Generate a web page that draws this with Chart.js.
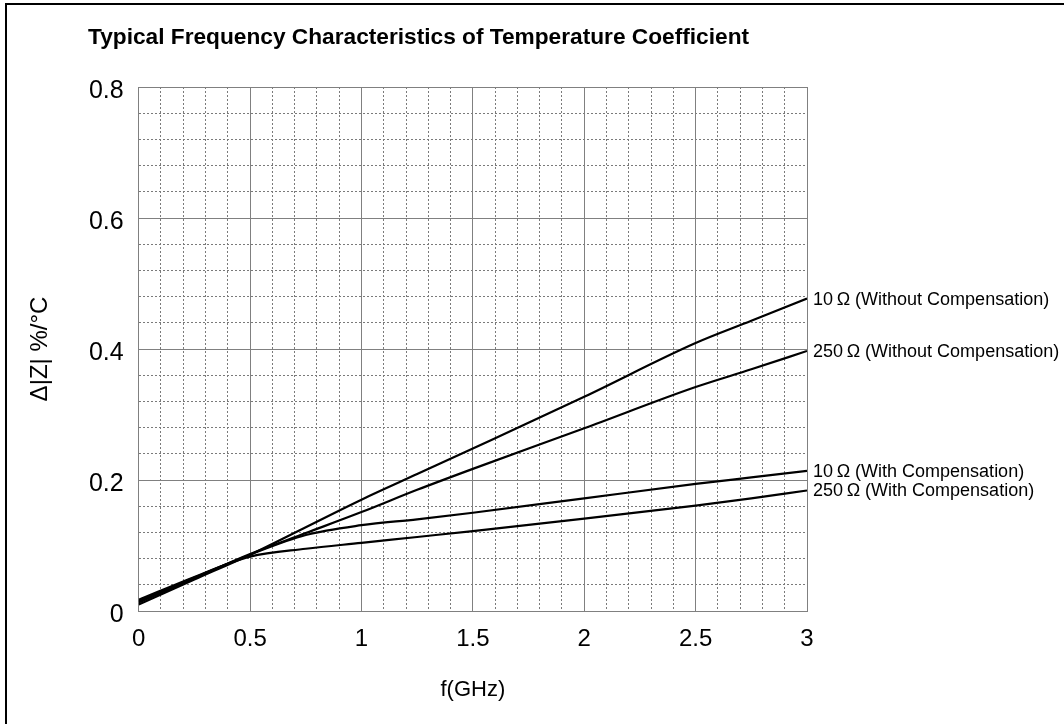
<!DOCTYPE html>
<html><head><meta charset="utf-8">
<script src="https://cdn.jsdelivr.net/npm/chart.js@4.4.1/dist/chart.umd.min.js"></script>
<style>
html,body{margin:0;padding:0;background:#fff;}
#wrap{position:relative;width:1064px;height:724px;overflow:hidden;}
#frame{position:absolute;left:5px;top:3px;width:1059px;height:721px;border-left:2px solid #000;border-top:2px solid #000;box-sizing:border-box;pointer-events:none;}
canvas{position:absolute;left:0;top:0;}
</style></head><body>
<div id="wrap"><canvas id="c" width="1064" height="724"></canvas><div id="frame"></div></div>
<script>
// ---- data ----
const chartTitle = 'Typical Frequency Characteristics of Temperature Coefficient';
const xAxisTitle = 'f(GHz)';
const yAxisTitle = 'Δ|Z| %/°C';
const frequencyGHz     = [0,     0.25,  0.5,   0.75,  1,     1.25,  1.5,   2,     2.5,   2.75,  3];
const z10WithoutComp   = [0.010, 0.048, 0.086, 0.128, 0.170, 0.209, 0.248, 0.327, 0.409, 0.443, 0.477];
const z250WithoutComp  = [0.013, 0.050, 0.087, 0.119, 0.151, 0.185, 0.217, 0.279, 0.342, 0.369, 0.397];
const z10WithComp      = [0.015, 0.051, 0.086, 0.116, 0.131, 0.140, 0.150, 0.172, 0.194, 0.204, 0.214];
const z250WithComp     = [0.017, 0.052, 0.083, 0.095, 0.104, 0.113, 0.122, 0.141, 0.161, 0.172, 0.184];
const seriesNames = ['10\u2009Ω (Without Compensation)', '250\u2009Ω (Without Compensation)', '10\u2009Ω (With Compensation)', '250\u2009Ω (With Compensation)'];
const xTickLabels = ['0', '0.5', '1', '1.5', '2', '2.5', '3'];
const yTickLabels = ['0', '0.2', '0.4', '0.6', '0.8'];

const FONT = '"Liberation Sans", Arial, sans-serif';
Chart.defaults.font.family = FONT;
Chart.defaults.color = '#000';

const seriesValues = [z10WithoutComp, z250WithoutComp, z10WithComp, z250WithComp];
const datasets = seriesValues.map((vals, i) => ({
  label: seriesNames[i],
  data: frequencyGHz.map((f, k) => ({x: f, y: vals[k]})),
  borderColor: '#000',
  borderWidth: 2.2,
  pointRadius: 0,
  fill: false,
  cubicInterpolationMode: 'monotone',
  xAxisID: 'x', yAxisID: 'y'
}));

const extrasPlugin = {
  id: 'extras',
  afterDraw(chart) {
    const ctx = chart.ctx;
    ctx.save();
    ctx.fillStyle = '#000';
    ctx.font = 'bold 22.7px ' + FONT;
    ctx.textAlign = 'left';
    ctx.textBaseline = 'alphabetic';
    ctx.fillText(chartTitle, 88, 44);
    const xs = chart.scales.x, ys = chart.scales.y;
    ctx.font = '18px ' + FONT;
    ctx.textBaseline = 'middle';
    chart.data.datasets.forEach(ds => {
      const last = ds.data[ds.data.length - 1];
      ctx.fillText(ds.label, xs.getPixelForValue(last.x) + 6, ys.getPixelForValue(last.y) + 1);
    });
    ctx.restore();
  }
};

new Chart(document.getElementById('c'), {
  type: 'line',
  data: { datasets },
  options: {
    responsive: false,
    animation: false,
    devicePixelRatio: 1,
    layout: { padding: { left: 10, top: 87, right: 257, bottom: 10 } },
    plugins: { legend: { display: false }, title: { display: false }, tooltip: { enabled: false } },
    scales: {
      xm: {
        type: 'linear', position: 'bottom', min: 0, max: 3,
        ticks: { display: false, stepSize: 0.1 },
        grid: { color: '#7a7a7a', lineWidth: 1, drawTicks: false },
        border: { display: false, dash: [2, 2] },
        afterFit(s) { s.height = 0; }
      },
      ym: {
        type: 'linear', position: 'left', min: 0, max: 0.8,
        ticks: { display: false, stepSize: 0.04 },
        grid: { color: '#7a7a7a', lineWidth: 1, drawTicks: false },
        border: { display: false, dash: [2, 2] },
        afterFit(s) { s.width = 0; }
      },
      x: {
        type: 'linear', position: 'bottom', min: 0, max: 3,
        afterBuildTicks(s) { s.ticks = xTickLabels.map(t => ({value: parseFloat(t)})); },
        ticks: { padding: 14, font: { size: 24 }, color: '#000',
                 callback: (v) => xTickLabels.find(t => Math.abs(parseFloat(t) - v) < 1e-9) },
        grid: { color: '#808080', lineWidth: 1, drawTicks: false },
        border: { display: true, color: '#808080' },
        title: { display: true, text: xAxisTitle, font: { size: 22 }, color: '#000', padding: { top: 0, bottom: 11 } },
        afterFit(s) { s.height = 103; }
      },
      y: {
        type: 'linear', position: 'left', min: 0, max: 0.8,
        afterBuildTicks(s) { s.ticks = yTickLabels.map(t => ({value: parseFloat(t)})); },
        ticks: { padding: 15, font: { size: 25 }, color: '#000', labelOffset: 4,
                 callback: (v) => yTickLabels.find(t => Math.abs(parseFloat(t) - v) < 1e-9) },
        grid: { color: '#808080', lineWidth: 1, drawTicks: false },
        border: { display: true, color: '#808080' },
        title: { display: true, text: yAxisTitle, font: { size: 24 }, color: '#000', padding: { top: 16, bottom: 0 } },
        afterFit(s) { s.width = 128.7; }
      }
    }
  },
  plugins: [extrasPlugin]
});
</script>
</body></html>
